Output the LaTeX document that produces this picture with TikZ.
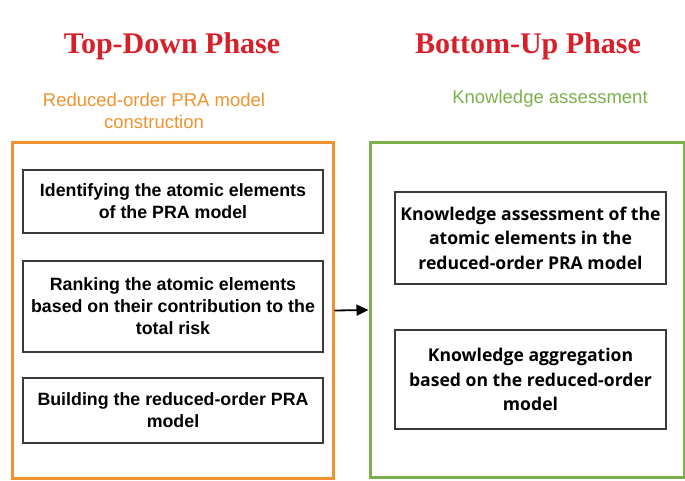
\documentclass[tikz,border=0pt]{standalone}
\usepackage{fontspec}
\setmainfont{Liberation Sans}
\newfontfamily\titlefont{Liberation Serif}
\newfontfamily\rfont{Open Sans}
\usetikzlibrary{arrows.meta}
\definecolor{ttlred}{HTML}{D8202A}
\definecolor{orng}{HTML}{F0922F}
\definecolor{grn}{HTML}{7BB04A}
\definecolor{boxline}{HTML}{3A3A3A}
\tikzset{
  title/.style={font=\titlefont\bfseries\fontsize{30}{32}\selectfont, text=ttlred},
  subt/.style={font=\fontsize{18.5}{22}\selectfont, align=center},
  stepbox/.style={draw=boxline, line width=1.6pt, minimum width=300pt, align=center, inner sep=0pt,
    font=\bfseries\fontsize{17.8}{22}\selectfont},
  rbox/.style={draw=boxline, line width=1.6pt, minimum width=271pt, align=center, inner sep=0pt,
    font=\rfont\bfseries\fontsize{17.6}{24.5}\selectfont}
}
\begin{document}
\begin{tikzpicture}[x=1pt,y=-1pt]
\useasboundingbox (0,0) rectangle (685,481);
\node[title] (t1) at (172,46) {Top-Down Phase};
\node[title] (t2) at (528,46) {Bottom-Up Phase};
\node[subt, text=orng] (s1) at (154,111) {Reduced-order PRA model\\construction};
\node[subt, text=grn] (s2) at (550,99) {Knowledge assessment};
\node[draw=orng, line width=3pt, minimum width=321pt, minimum height=335pt] (ob) at (172.5,310.5) {};
\node[draw=grn, line width=3pt, minimum width=314pt, minimum height=334pt] (gb) at (527,310) {};
\node[stepbox, minimum height=63pt] (b1) at (173,201.5) {Identifying the atomic elements\\of the PRA model};
\node[stepbox, minimum height=91pt] (b2) at (173,306.5) {Ranking the atomic elements\\based on their contribution to the\\total risk};
\node[stepbox, minimum height=65pt] (b3) at (173,410.5) {Building the reduced-order PRA\\model};
\node[rbox, minimum height=92pt] (b4) at (530.5,238) {Knowledge assessment of the\\atomic elements in the\\reduced-order PRA model};
\node[rbox, minimum height=99pt] (b5) at (530.5,379.5) {Knowledge aggregation\\based on the reduced-order\\model};
\draw[line width=1.8pt, -{Triangle[length=12pt,width=11pt]}] (ob.east) -- (gb.west);
\end{tikzpicture}
\end{document}
